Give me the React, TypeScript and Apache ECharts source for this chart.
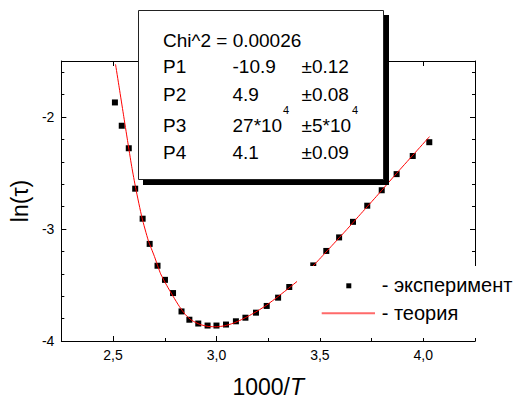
import React, { useEffect, useRef } from "react";
import * as echarts from "echarts";

// Experimental points (1000/T, ln(tau))
const xExp = [2.509, 2.542, 2.576, 2.607, 2.643, 2.677, 2.715, 2.751, 2.790, 2.831, 2.869, 2.912, 2.957, 3.000, 3.046, 3.094, 3.140, 3.191, 3.243, 3.298, 3.352, 3.412, 3.468, 3.531, 3.593, 3.660, 3.729, 3.799, 3.871, 3.949, 4.029];
const yExp = [-1.870, -2.078, -2.279, -2.640, -2.908, -3.133, -3.328, -3.454, -3.572, -3.736, -3.810, -3.844, -3.862, -3.862, -3.853, -3.824, -3.792, -3.747, -3.687, -3.613, -3.518, -3.408, -3.325, -3.196, -3.075, -2.936, -2.792, -2.654, -2.510, -2.348, -2.225];

// Fitted (theory) curve
const xFit = [2.512, 2.53, 2.55, 2.57, 2.59, 2.61, 2.64, 2.67, 2.70, 2.73, 2.76, 2.79, 2.82, 2.85, 2.88, 2.92, 2.96, 3.00, 3.04, 3.08, 3.12, 3.16, 3.20, 3.24, 3.30, 3.36, 3.42, 3.49, 3.56, 3.63, 3.70, 3.78, 3.87, 3.95, 4.03];
const yFit = [-1.53, -1.74, -1.975, -2.21, -2.44, -2.64, -2.90, -3.10, -3.245, -3.40, -3.505, -3.60, -3.69, -3.765, -3.815, -3.852, -3.870, -3.873, -3.864, -3.842, -3.810, -3.772, -3.730, -3.683, -3.60, -3.513, -3.42, -3.285, -3.145, -3.005, -2.86, -2.695, -2.505, -2.34, -2.175];

// Axis ticks
const xMajor = [2.5, 3.0, 3.5, 4.0];
const xMinor = [2.25, 2.75, 3.25, 3.75, 4.25];
const yMajor = [-4, -3, -2];
const yMinor = [-3.8, -3.6, -3.4, -3.2, -2.8, -2.6, -2.4, -2.2, -1.8, -1.6];

// Fit results box
const chi2Text = "Chi^2 = 0.00026";
const paramNames = ["P1", "P2", "P3", "P4"];
const paramValues = ["-10.9", "4.9", "27*10", "4.1"];
const paramErrors = ["±0.12", "±0.08", "±5*10", "±0.09"];
const paramExp = ["", "", "4", ""];
const errExp = ["", "", "4", ""];

const legendLabels = ["- эксперимент", "- теория"];

const FONT = "'Liberation Sans', Arial, sans-serif";

export default function App() {
  const ref = useRef<HTMLDivElement>(null);
  useEffect(() => {
    document.body.style.margin = "0";
    if (!ref.current) return;
    const chart = echarts.init(ref.current, null, { renderer: "svg" });

    const xMin = 2.25, xMax = 4.25, yMin = -4, yMax = -1.5;
    const axisLineStyle = { color: "#000", width: 1 };

    const mkX = (position: string, ticks: number[], len: number, showLine: boolean, showLabel: boolean, extra: any = {}) => ({
      type: "value",
      position,
      min: xMin,
      max: xMax,
      axisLine: { show: showLine, onZero: false, lineStyle: axisLineStyle },
      axisTick: { show: true, inside: true, length: len, customValues: ticks, lineStyle: { color: "#000", width: 1 } },
      axisLabel: {
        show: showLabel,
        customValues: ticks,
        margin: 7,
        color: "#000",
        fontFamily: FONT,
        fontSize: 14,
        formatter: (v: number) => v.toFixed(1).replace(".", ","),
      },
      splitLine: { show: false },
      ...extra,
    });
    const mkY = (position: string, ticks: number[], len: number, showLine: boolean, showLabel: boolean, extra: any = {}) => ({
      type: "value",
      position,
      min: yMin,
      max: yMax,
      axisLine: { show: showLine, onZero: false, lineStyle: axisLineStyle },
      axisTick: { show: true, inside: true, length: len, customValues: ticks, lineStyle: { color: "#000", width: 1 } },
      axisLabel: {
        show: showLabel,
        customValues: ticks,
        margin: 7,
        color: "#000",
        fontFamily: FONT,
        fontSize: 14,
        formatter: (v: number) => String(Math.round(v)),
      },
      splitLine: { show: false },
      ...extra,
    });

    const boxX = 138.5, boxY = 10.5, boxW = 245, boxH = 169;
    const col1 = 163, col2 = 232.5, col3 = 301.5;
    const rowY = [66.7, 94.1, 125.7, 152.4];
    const txt = (x: number, y: number, text: string, size = 19, z = 102) => ({
      type: "text",
      x,
      y,
      z,
      style: { text, fill: "#000", font: `${size}px ${FONT}`, textVerticalAlign: "middle", verticalAlign: "middle", align: "left" },
    });

    const graphics: any[] = [
      { type: "rect", z: 100, shape: { x: boxX + 4.5, y: boxY + 4.5, width: boxW + 1, height: boxH + 1 }, style: { fill: "#000" } },
      { type: "rect", z: 101, shape: { x: boxX, y: boxY, width: boxW, height: boxH }, style: { fill: "#fff", stroke: "#222", lineWidth: 1 } },
      txt(col1, 40.1, chi2Text),
    ];
    paramNames.forEach((n, i) => {
      graphics.push(txt(col1, rowY[i], n));
      graphics.push(txt(col2, rowY[i], paramValues[i]));
      graphics.push(txt(col3, rowY[i], paramErrors[i]));
      if (paramExp[i]) graphics.push(txt(283, rowY[i] - 15.5, paramExp[i], 11));
      if (errExp[i]) graphics.push(txt(352, rowY[i] - 15.5, errExp[i], 11));
    });
    // legend
    graphics.push({ type: "rect", z: 100, shape: { x: 297, y: 266, width: 220, height: 72 }, style: { fill: "#fff" } });
    graphics.push({ type: "rect", z: 102, shape: { x: 346.3, y: 283.3, width: 5, height: 5 }, style: { fill: "#000" } });
    graphics.push({ type: "line", z: 102, shape: { x1: 321.7, y1: 313.3, x2: 375, y2: 313.3 }, style: { stroke: "#ff6a6a", lineWidth: 2 } });
    graphics.push(txt(381.7, 285.2, legendLabels[0], 20));
    graphics.push(txt(381.7, 312.5, legendLabels[1], 20));

    chart.setOption({
      animation: false,
      backgroundColor: "#fff",
      grid: { left: 58, right: 42, top: 61, bottom: 54, containLabel: false },
      xAxis: [
        mkX("bottom", xMajor, 5, true, true, {
          name: "1000/{i|T}",
          nameLocation: "middle",
          nameGap: 34,
          nameTextStyle: {
            color: "#000",
            fontFamily: FONT,
            fontSize: 23,
            rich: { i: { fontStyle: "italic", fontFamily: FONT, fontSize: 23, color: "#000" } },
          },
        }),
        mkX("bottom", xMinor, 3, false, false),
        mkX("top", xMajor, 5, true, false),
        mkX("top", xMinor, 3, false, false),
      ],
      yAxis: [
        mkY("left", yMajor, 5, true, true, {
          name: "ln(τ)",
          nameLocation: "middle",
          nameGap: 25,
          nameRotate: 90,
          nameTextStyle: { color: "#000", fontFamily: FONT, fontSize: 23 },
        }),
        mkY("left", yMinor, 3, false, false),
        mkY("right", yMajor, 5, true, false),
        mkY("right", yMinor, 3, false, false),
      ],
      series: [
        {
          type: "line",
          name: "теория",
          data: xFit.map((x, i) => [x, yFit[i]]),
          showSymbol: false,
          smooth: 0.2,
          lineStyle: { color: "#ff0000", width: 1 },
          clip: true,
        },
        {
          type: "scatter",
          name: "эксперимент",
          data: xExp.map((x, i) => [x, yExp[i]]),
          symbol: "rect",
          symbolSize: 6,
          itemStyle: { color: "#000", opacity: 1 },
        },
      ],
      graphic: graphics,
    });
    return () => chart.dispose();
  }, []);
  return <div ref={ref} style={{ width: 517, height: 403 }} />;
}
